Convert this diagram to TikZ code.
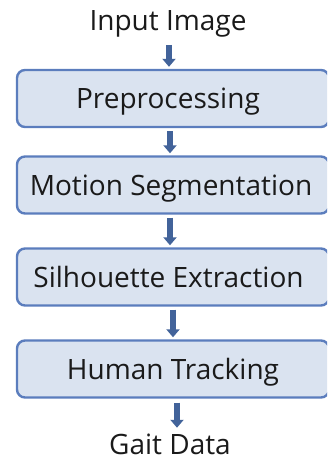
\documentclass[tikz,border=0pt]{standalone}
\usepackage{fontspec}
\setmainfont{Open Sans}
\usetikzlibrary{arrows.meta}
\definecolor{boxfill}{HTML}{DAE3F0}
\definecolor{boxline}{HTML}{5B7DBD}
\definecolor{arrcol}{HTML}{42639A}
\definecolor{txt}{HTML}{1A1A1A}
\tikzset{
  stage/.style={draw=boxline, line width=2.4pt, fill=boxfill, rounded corners=8pt,
    minimum width=312pt, minimum height=57pt, inner sep=0pt, text=txt,
    text height=20pt, text depth=0pt,
    font=\fontsize{28pt}{32pt}\selectfont},
  label/.style={inner sep=0pt, text=txt, anchor=base, font=\fontsize{28pt}{32pt}\selectfont},
  flow/.style={draw=arrcol, line width=6pt, -{Triangle[width=13pt,length=8pt]}}
}
\begin{document}
\begin{tikzpicture}[x=1pt,y=1pt]
\useasboundingbox (0,0) rectangle (327,-461);
\begin{scope}
\clip (0,0) rectangle (327,-461);
\node[label] (in) at (168,-30) {Input Image};
\node[stage] (b1) at (173,-98.5) {\hspace*{-10pt}Preprocessing};
\node[stage] (b2) at (173,-185) {\hspace*{-4pt}Motion Segmentation};
\node[stage] (b3) at (173,-277) {\hspace*{-9pt}Silhouette Extraction};
\node[stage] (b4) at (173,-369) {Human Tracking};
\node[label] (out) at (170,-454.5) {Gait Data};
\draw[flow, shorten <=8pt, shorten >=2pt] ([xshift=1pt]in.south) -- ([xshift=-4pt]b1.north);
\draw[flow, shorten <=3pt, shorten >=2pt] ([xshift=-3pt]b1.south) -- ([xshift=-3pt]b2.north);
\draw[flow, shorten <=3pt, shorten >=2pt] ([xshift=-3pt]b2.south) -- ([xshift=-3pt]b3.north);
\draw[flow, shorten <=3pt, shorten >=2pt] (b3.south) -- (b4.north);
\draw[flow, shorten <=4pt, shorten >=6pt] ([xshift=4pt]b4.south) -- ([xshift=4pt]b4.south |- out.north);
\end{scope}
\end{tikzpicture}
\end{document}
